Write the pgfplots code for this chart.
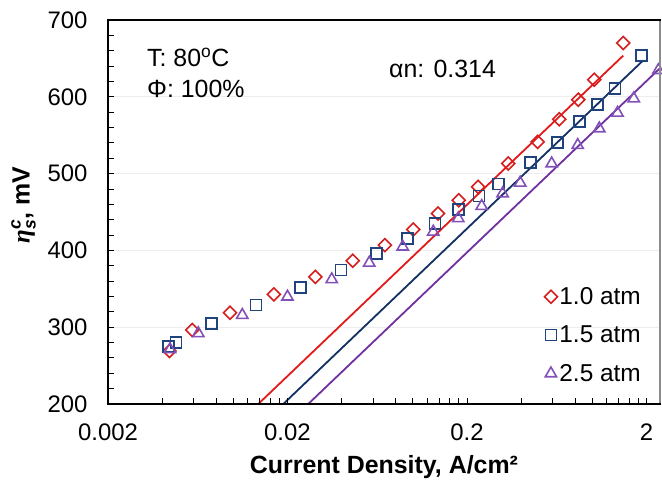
\documentclass[border=0pt]{standalone}
\usepackage{amsmath}
\usepackage{fontspec}
\setmainfont{Liberation Sans}
\newfontfamily\grk{Liberation Serif}
\usepackage{pgfplots}
\pgfplotsset{compat=1.18}
\definecolor{lred}{RGB}{226,26,28}
\definecolor{mred}{RGB}{214,30,30}
\definecolor{lblue}{RGB}{18,48,100}
\definecolor{mblue}{RGB}{31,68,125}
\definecolor{lpurp}{RGB}{112,48,160}
\definecolor{mpurp}{RGB}{130,80,185}
\begin{document}
\begin{tikzpicture}
\begin{axis}[
  name=ax,
  at={(0,0)}, anchor=south west,
  scale only axis, width=552bp, height=384bp,
  xmode=log, xmin=0.002, xmax=2.38, ymin=200, ymax=700,
  xtick={0.002,0.02,0.2,2}, xticklabels={0.002,0.02,0.2,2},
  minor xtick={0.004,0.006,0.008,0.01,0.012,0.014,0.016,0.018,0.04,0.06,0.08,0.1,0.12,0.14,0.16,0.18,0.4,0.6,0.8,1,1.2,1.4,1.6,1.8},
  ytick={200,300,400,500,600,700},
  minor ytick={220,240,260,280,320,340,360,380,420,440,460,480,520,540,560,580,620,640,660,680},
  xtick pos=bottom, ytick pos=left,
  tick align=inside, major tick length=6bp, minor tick length=6bp,
  every tick/.style={draw=black, line width=0.9bp},
  axis line style={black, line width=2bp},
  ymajorgrids, grid style={black!7, line width=0.6bp},
  /pgf/number format/assume math mode=true,
  ticklabel style={font=\fontsize{24}{28}\selectfont},
  yticklabel style={xshift=-17bp},
  xticklabel style={yshift=-16bp},
  legend style={draw=none, fill=none, at={(1,0)}, anchor=south east, xshift=-17bp, yshift=19bp, font=\fontsize{24.5}{28}\selectfont, row sep=16bp, inner sep=0pt},
  legend cell align=left,
]
\addplot[only marks, mark=square, mark size=4.6bp, mark options={rotate=45, draw=mred, line width=1.6bp, fill=none}] coordinates {
(0.00440,269) (0.0059,296.3) (0.00957,318.8) (0.0168,342.7) (0.0286,365.6) (0.0462,386.5) (0.0698,406.9) (0.1004,427.3) (0.138,448.1) (0.180,465.4) (0.231,482.7) (0.340,513.1) (0.495,541.3) (0.654,570.8) (0.834,596.3) (1.024,622.3) (1.486,670.1)
};
\addlegendentry{1.0 atm}
\addplot[only marks, mark=square, mark size=5.5bp, mark options={draw=mblue, line width=1.6bp, fill=none}] coordinates {
(0.00434,274.6) (0.00479,279.8) (0.00757,305) (0.01335,328.8) (0.0237,351.8) (0.0397,374.3) (0.0628,396) (0.0934,415.6) (0.133,435.1) (0.179,453.3) (0.234,470.6) (0.299,486.2) (0.453,514.1) (0.640,540.1) (0.845,568.2) (1.064,589.9) (1.334,610.8) (1.88,654.1)
};
\addlegendentry{1.5 atm}
\addplot[only marks, mark=triangle, mark size=6.5bp, mark options={draw=mpurp, line width=1.6bp, fill=none}] coordinates {
(0.00443,271.2) (0.00637,292) (0.0112,315.8) (0.0200,339.6) (0.0353,362.2) (0.0571,383.8) (0.0877,404.7) (0.1298,424.2) (0.179,441.6) (0.2416,457.6) (0.316,474.1) (0.396,488) (0.593,513.1) (0.828,537) (1.092,558.7) (1.38,579) (1.70,597.7) (2.33,634.6)
};
\addlegendentry{2.5 atm}
\addplot[draw=lred, line width=1.8bp, no marks, forget plot] coordinates {(0.01375,200) (1.486,653.7)};
\addplot[draw=lblue, line width=1.8bp, no marks, forget plot] coordinates {(0.01895,200) (1.92,647.5)};
\addplot[draw=lpurp, line width=1.8bp, no marks, forget plot] coordinates {(0.0261,200) (2.38,637.3)};
\end{axis}
\foreach \k in {2,3,4,5,6,7,8,9,10,20,30,40,50,60,70,80,90,100,200,300,400,500,600,700,800,900,1000} {
  \pgfmathsetmacro\xx{179.48*log10(\k)}
  \draw[black, line width=0.9bp] ([xshift=\xx bp]ax.south west) -- ++(0,6bp);
}
\foreach \j in {1,...,24} {
  \draw[black, line width=0.9bp] ([yshift=\j*15.36bp]ax.south west) -- ++(6bp,0);
}
\node[anchor=west, inner sep=0pt, font=\fontsize{25}{30}\selectfont] at ([shift={(39bp,-37.5bp)}]ax.north west) {T: 80\textsuperscript{o}C};
\node[anchor=west, inner sep=0pt, font=\fontsize{25}{30}\selectfont] at ([shift={(39bp,-69bp)}]ax.north west) {Φ: 100\%};
\node[anchor=west, inner sep=0pt, font=\fontsize{25}{30}\selectfont] at ([shift={(281bp,-49bp)}]ax.north west) {αn: 0.314};
\node[anchor=base, inner sep=0pt, font=\fontsize{25}{30}\selectfont\bfseries] at ([shift={(0bp,-70bp)}]ax.south) {Current Density, A/cm²};
\node[anchor=center, rotate=90, inner sep=0pt, font=\fontsize{25}{30}\selectfont\bfseries] at ([shift={(-84.5bp,7bp)}]ax.west) {{\grk\bfseries\itshape η}$^{\textbf{\textit{c}}}_{\textbf{\textit{s}}}$, mV};
\draw[white, line width=2.4bp] (ax.south east) -- (ax.north east);
\draw[black!45, line width=1.1bp] ([yshift=-1bp]ax.south east) -- ([yshift=1bp]ax.north east);
\draw[black, line width=2bp] ([xshift=-1bp]ax.south west) -- ([xshift=1bp]ax.south east);
\draw[black, line width=2bp] ([xshift=-1bp]ax.north west) -- ([xshift=0.5bp]ax.north east);
\pgfresetboundingbox
\path ([shift={(-108bp,-76bp)}]ax.south west) rectangle ([shift={(2bp,20bp)}]ax.north east);
\end{tikzpicture}
\end{document}
